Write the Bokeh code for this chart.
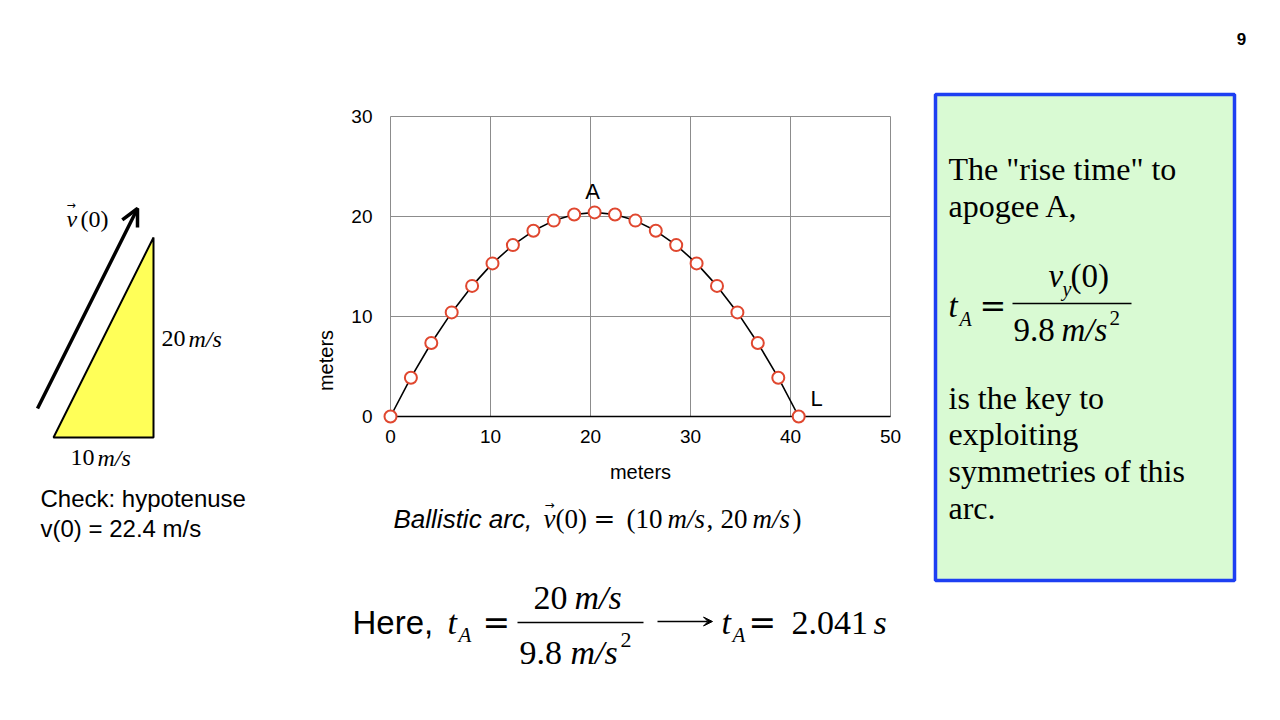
from bokeh.plotting import figure
from bokeh.models import Range1d, LinearAxis, FixedTicker, Arrow, OpenHead, VeeHead
from bokeh.core.properties import value
from bokeh.embed import file_html
from bokeh.resources import INLINE

# ---------------- data ----------------
arc_x = [0, 2.04, 4.08, 6.12, 8.16, 10.20, 12.24, 14.29, 16.33, 18.37, 20.41,
         22.45, 24.49, 26.53, 28.57, 30.61, 32.65, 34.69, 36.73, 38.78, 40.82]
arc_y = [0, 3.88, 7.35, 10.41, 13.06, 15.31, 17.14, 18.57, 19.59, 20.20, 20.41,
         20.20, 19.59, 18.57, 17.14, 15.31, 13.06, 10.41, 7.35, 3.88, 0]
x_ticks = [0, 10, 20, 30, 40, 50]
y_ticks = [0, 10, 20, 30]
v0_components = [10, 20]          # m/s : (v_x, v_y)
point_labels = ["A", "L"]
point_label_x = [20.2, 42.6]
point_label_y = [22.5, 1.8]

# ---------------- style ----------------
SANS = "Liberation Sans"
SERIF = "Liberation Serif"
EQ = "DejaVu Serif"
GRID = "#8c8c8c"
RED = "#e0472f"
YELLOW = "#ffff58"
GREEN = "#d9fad3"
BLUE = "#1d3ff2"

W, H = 1280, 720
PX0, PY0, PPU = 390, 416, 10      # page pixel of data origin, pixels per unit


def X(px):
    return (px - PX0) / PPU


def Y(py):
    return (PY0 - py) / PPU


p = figure(width=W, height=H, x_range=Range1d(X(0), X(W)), y_range=Range1d(Y(H), Y(0)),
           output_backend="svg", toolbar_location=None, x_axis_type=None, y_axis_type=None,
           min_border=0)
p.outline_line_color = None
p.background_fill_color = "white"
p.border_fill_color = "white"


def T(px, py, s, size, font=SERIF, style="normal", align="left"):
    p.text(x=[X(px)], y=[Y(py)], text=[s], text_font=value(font),
           text_font_size=f"{size}px", text_font_style=style, text_align=align,
           text_baseline="middle", text_color="black")


# ---------------- chart ----------------
xmin, xmax = x_ticks[0], x_ticks[-1]
ymin, ymax = y_ticks[0], y_ticks[-1]
p.segment(x0=x_ticks, y0=[ymin] * len(x_ticks), x1=x_ticks, y1=[ymax] * len(x_ticks),
          line_color=GRID, line_width=1)
p.segment(x0=[xmin] * len(y_ticks), y0=y_ticks, x1=[xmax] * len(y_ticks), y1=y_ticks,
          line_color=GRID, line_width=1)
p.segment(x0=[xmin], y0=[ymin], x1=[xmax], y1=[ymin], line_color="black", line_width=1.6)
p.line(arc_x, arc_y, line_color="black", line_width=1.6)
p.scatter(arc_x, arc_y, marker="circle", size=12, fill_color="white",
          line_color=RED, line_width=2)
p.text(x=point_label_x, y=point_label_y, text=point_labels, text_font=value(SANS),
       text_font_size="22px", text_align="center", text_baseline="middle", text_color="black")

common = dict(axis_line_color=None, major_tick_line_color=None, minor_tick_line_color=None,
              major_tick_in=0, major_tick_out=0,
              major_label_text_font=SANS, major_label_text_font_size="19px",
              major_label_text_color="black",
              axis_label="meters", axis_label_text_font=SANS,
              axis_label_text_font_size="20px", axis_label_text_font_style="normal",
              axis_label_text_color="black")
xa = LinearAxis(fixed_location=0, ticker=FixedTicker(ticks=x_ticks, minor_ticks=[]),
                major_label_standoff=13, axis_label_standoff=15, **common)
ya = LinearAxis(fixed_location=0, ticker=FixedTicker(ticks=y_ticks, minor_ticks=[]),
                major_label_standoff=18, axis_label_standoff=11, **common)
p.add_layout(xa, "below")
p.add_layout(ya, "left")

# ---------------- left: velocity triangle ----------------
vx, vy = v0_components
ox, oy = X(53), Y(437)
p.patch(x=[ox, ox + vx, ox + vx], y=[oy, oy, oy + vy], fill_color=YELLOW,
        line_color="black", line_width=2)
ax0, ay0 = X(37), Y(408)
p.add_layout(Arrow(x_start=ax0, y_start=ay0, x_end=ax0 + vx, y_end=ay0 + vy,
                   line_width=3.5, line_color="black",
                   end=OpenHead(size=17, line_width=3.5, line_color="black")))
T(66, 218, "v", 24, style="italic")
T(66, 205, "→", 11, font="DejaVu Sans")
T(80, 218, "(0)", 24)
T(161, 338, "20", 24)
T(188, 338, "m/s", 24, style="italic")
T(70, 457, "10", 24)
T(97, 457, "m/s", 24, style="italic")
T(40, 498, "Check: hypotenuse", 24, font=SANS)
T(40, 528, "v(0) = 22.4 m/s", 24, font=SANS)

# ---------------- caption ----------------
T(393, 518, "Ballistic  arc,", 26, font=SANS, style="italic")
T(543, 518, "v", 27, style="italic")
T(544, 504, "→", 12, font="DejaVu Sans")
T(555, 518, "(0)", 27)
T(593, 518, "=", 26, font=EQ)
T(626, 518, "(10", 27)
T(667, 518, "m/s", 27, style="italic")
T(706, 518, ",", 27)
T(720, 518, "20", 27)
T(752, 518, "m/s", 27, style="italic")
T(792, 518, ")", 27)

# ---------------- formula line ----------------
T(352, 622, "Here,", 33, font=SANS)
T(447, 622, "t", 34, style="italic")
T(458, 634, "A", 21, style="italic")
T(482, 622, "=", 33, font=EQ)
p.segment(x0=[X(517)], y0=[Y(622)], x1=[X(643)], y1=[Y(622)], line_color="black", line_width=1.5)
T(533, 597, "20", 34)
T(574, 597, "m/s", 34, style="italic")
T(519, 652, "9.8", 34)
T(570, 652, "m/s", 34, style="italic")
T(620, 639, "2", 22)
p.add_layout(Arrow(x_start=X(657), y_start=Y(621), x_end=X(712), y_end=Y(621),
                   line_width=1.5, line_color="black",
                   end=VeeHead(size=9, fill_color="black", line_color="black")))
T(721, 622, "t", 34, style="italic")
T(732, 634, "A", 21, style="italic")
T(748, 622, "=", 33, font=EQ)
T(791, 622, "2.041", 34)
T(873, 622, "s", 34, style="italic")

# ---------------- right: green box ----------------
p.quad(left=X(935), right=X(1234), top=Y(94), bottom=Y(580), fill_color=GREEN,
       line_color=BLUE, line_width=3.5)
for py, line in [(168, "The \"rise time\" to"), (205, "apogee A,"),
                 (397, "is the key to"), (433, "exploiting"),
                 (470, "symmetries of this"), (507, "arc.")]:
    T(948, py, line, 32)
T(948, 305, "t", 33, style="italic")
T(959, 318, "A", 20, style="italic")
T(979, 305, "=", 32, font=EQ)
p.segment(x0=[X(1012)], y0=[Y(303)], x1=[X(1131)], y1=[Y(303)], line_color="black", line_width=1.5)
T(1048, 275, "v", 33, style="italic")
T(1062, 288, "y", 20, style="italic")
T(1070, 275, "(0)", 33)
T(1013, 329, "9.8", 33)
T(1061, 329, "m/s", 33, style="italic")
T(1109, 317, "2", 21)

# page number
T(1241, 38, "9", 17, font=SANS, style="bold", align="center")

open("out.html", "w").write(file_html(p, INLINE))
